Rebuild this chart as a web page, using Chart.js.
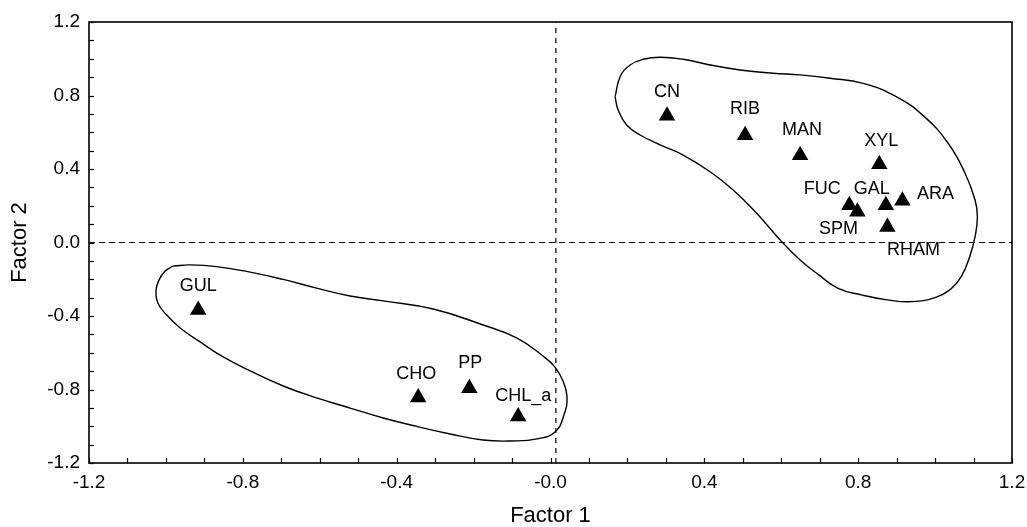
<!DOCTYPE html>
<html>
<head>
<meta charset="utf-8">
<script src="https://cdn.jsdelivr.net/npm/chart.js@4.4.1/dist/chart.umd.min.js"></script>
<style>
html,body{margin:0;padding:0;background:#fff;}
#wrap{width:1027px;height:527px;}
</style>
</head>
<body>
<div id="wrap"><canvas id="c" width="1027" height="527"></canvas></div>
<script>
// ---- data ----
const categories = ['CN','RIB','MAN','XYL','FUC','GAL','ARA','SPM','RHAM','GUL','CHO','PP','CHL_a'];
const factor1 = [0.303,0.506,0.649,0.855,0.777,0.872,0.915,0.798,0.876,-0.916,-0.344,-0.211,-0.084];
const factor2 = [0.690,0.584,0.475,0.426,0.203,0.203,0.227,0.167,0.085,-0.368,-0.844,-0.793,-0.947];

const xTickLabels = ['-1.2','-0.8','-0.4','-0.0','0.4','0.8','1.2'];
const yTickLabels = ['-1.2','-0.8','-0.4','0.0','0.4','0.8','1.2'];

// outline of the upper-right group (closed curve)
const groupAx = [0.168,0.181,0.207,0.241,0.285,0.345,0.415,0.493,0.579,0.649,0.727,0.813,0.900,0.972,1.034,1.078,1.104,1.110,1.104,1.090,1.068,1.040,1.000,0.940,0.875,0.808,0.748,0.697,0.649,0.597,0.536,0.475,0.415,0.345,0.285,0.233,0.198,0.176,0.168];
const groupAy = [0.793,0.902,0.966,0.997,1.008,0.997,0.966,0.939,0.921,0.912,0.894,0.866,0.793,0.685,0.540,0.377,0.231,0.140,0.032,-0.077,-0.186,-0.255,-0.300,-0.322,-0.312,-0.285,-0.250,-0.175,-0.095,0.014,0.159,0.286,0.385,0.476,0.531,0.585,0.639,0.721,0.793];

// outline of the lower-left group (closed curve)
const groupBx = [-0.981,-0.937,-0.868,-0.781,-0.695,-0.608,-0.521,-0.435,-0.305,-0.175,-0.087,-0.0195,0.0117,0.0325,0.043,0.035,0.0117,-0.035,-0.100,-0.1755,-0.261,-0.348,-0.435,-0.521,-0.608,-0.695,-0.781,-0.851,-0.911,-0.963,-0.998,-1.021,-1.026,-1.018,-1.002,-0.981];
const groupBy = [-0.128,-0.122,-0.131,-0.161,-0.201,-0.248,-0.291,-0.318,-0.362,-0.449,-0.520,-0.618,-0.678,-0.754,-0.841,-0.939,-1.031,-1.069,-1.080,-1.075,-1.042,-1.001,-0.955,-0.901,-0.846,-0.781,-0.699,-0.623,-0.541,-0.465,-0.395,-0.329,-0.264,-0.204,-0.155,-0.128];

// reference lines
const zeroLineX = [-1.2, 1.2];
const verticalRefX = 0.014;

// ---- styling (label placement relative to marker, px) ----
const labelOffsets = {
  CN:[0,-24], RIB:[0,-26], MAN:[2,-25], XYL:[2,-23], FUC:[-27,-16], GAL:[-14,-16],
  ARA:[33,-7], SPM:[-19,17], RHAM:[26,23], GUL:[0,-24], CHO:[-2,-24], PP:[1,-25], CHL_a:[5,-20]
};

const FONT = "'Liberation Sans', Arial, Helvetica, sans-serif";
Chart.defaults.font.family = FONT;
Chart.defaults.color = '#000';

const zip = (xs, ys) => xs.map((x, i) => ({x, y: ys[i]}));

const frameAndTicks = {
  id: 'frameAndTicks',
  afterDraw(chart) {
    const {ctx, chartArea: a, scales} = chart;
    ctx.save();
    ctx.strokeStyle = '#000';
    ctx.lineWidth = 1.2;
    scales.x.ticks.forEach(t => {
      const px = Math.round(scales.x.getPixelForValue(t.value)) + 0.5;
      ctx.beginPath(); ctx.moveTo(px, a.bottom); ctx.lineTo(px, a.bottom - 5); ctx.stroke();
    });
    scales.y.ticks.forEach(t => {
      const py = Math.round(scales.y.getPixelForValue(t.value)) + 0.5;
      ctx.beginPath(); ctx.moveTo(a.left, py); ctx.lineTo(a.left + 5, py); ctx.stroke();
    });
    ctx.lineWidth = 1.6;
    ctx.strokeRect(a.left, a.top, a.right - a.left, a.bottom - a.top);
    ctx.restore();
  }
};

const pointLabels = {
  id: 'pointLabels',
  afterDatasetsDraw(chart) {
    const meta = chart.getDatasetMeta(0);
    const ctx = chart.ctx;
    ctx.save();
    ctx.font = '18px ' + FONT;
    ctx.fillStyle = '#000';
    ctx.textAlign = 'center';
    ctx.textBaseline = 'middle';
    meta.data.forEach((el, i) => {
      const name = categories[i];
      const off = labelOffsets[name] || [0, -24];
      ctx.fillText(name, el.x + off[0], el.y + off[1]);
    });
    ctx.restore();
  }
};

new Chart(document.getElementById('c'), {
  type: 'scatter',
  data: {
    datasets: [
      {
        label: 'variables',
        data: zip(factor1, factor2),
        pointStyle: 'triangle',
        pointRadius: 9.5,
        pointHoverRadius: 9.5,
        backgroundColor: '#000',
        borderColor: '#000',
        borderWidth: 0,
        showLine: false,
        order: 0
      },
      {
        label: 'group A',
        data: zip(groupAx, groupAy),
        showLine: true,
        tension: 0.45,
        pointRadius: 0,
        borderColor: '#000',
        borderWidth: 1.4,
        fill: false,
        order: 1
      },
      {
        label: 'group B',
        data: zip(groupBx, groupBy),
        showLine: true,
        tension: 0.45,
        pointRadius: 0,
        borderColor: '#000',
        borderWidth: 1.4,
        fill: false,
        order: 1
      },
      {
        label: 'zero y',
        data: zip(zeroLineX, [0, 0]),
        showLine: true,
        pointRadius: 0,
        borderColor: '#000',
        borderWidth: 1.2,
        borderDash: [6, 4],
        order: 2
      },
      {
        label: 'zero x',
        data: zip([verticalRefX, verticalRefX], [-1.2, 1.2]),
        showLine: true,
        pointRadius: 0,
        borderColor: '#000',
        borderWidth: 1.2,
        borderDash: [5, 5],
        order: 2
      }
    ]
  },
  options: {
    responsive: false,
    animation: false,
    devicePixelRatio: 1,
    layout: { padding: { left: 0, right: 15, top: 22, bottom: 0 } },
    plugins: { legend: { display: false }, tooltip: { enabled: false } },
    scales: {
      x: {
        type: 'linear',
        min: -1.2, max: 1.2,
        afterFit(s) { s.height = 64; s.paddingLeft = 0; s.paddingRight = 0; },
        grid: { drawOnChartArea: false, drawTicks: false },
        border: { display: false },
        ticks: {
          stepSize: 0.1,
          autoSkip: false,
          maxRotation: 0,
          padding: 8,
          font: { size: 19 },
          color: '#000',
          callback: (v, i) => (i % 4 === 0 ? xTickLabels[i / 4] : '')
        },
        title: {
          display: true,
          text: 'Factor 1',
          font: { size: 22, lineHeight: 1 },
          padding: { top: 1, bottom: 0 },
          color: '#000'
        }
      },
      y: {
        type: 'linear',
        min: -1.2, max: 1.2,
        afterFit(s) { s.width = 89; s.paddingTop = 0; s.paddingBottom = 0; },
        grid: { drawOnChartArea: false, drawTicks: false },
        border: { display: false },
        ticks: {
          stepSize: 0.1,
          autoSkip: false,
          padding: 9,
          font: { size: 19 },
          color: '#000',
          callback: (v, i) => (i % 4 === 0 ? yTickLabels[i / 4] : '')
        },
        title: {
          display: true,
          text: 'Factor 2',
          font: { size: 22, lineHeight: 1 },
          padding: { top: 9, bottom: 0 },
          color: '#000'
        }
      }
    }
  },
  plugins: [frameAndTicks, pointLabels]
});
</script>
</body>
</html>
